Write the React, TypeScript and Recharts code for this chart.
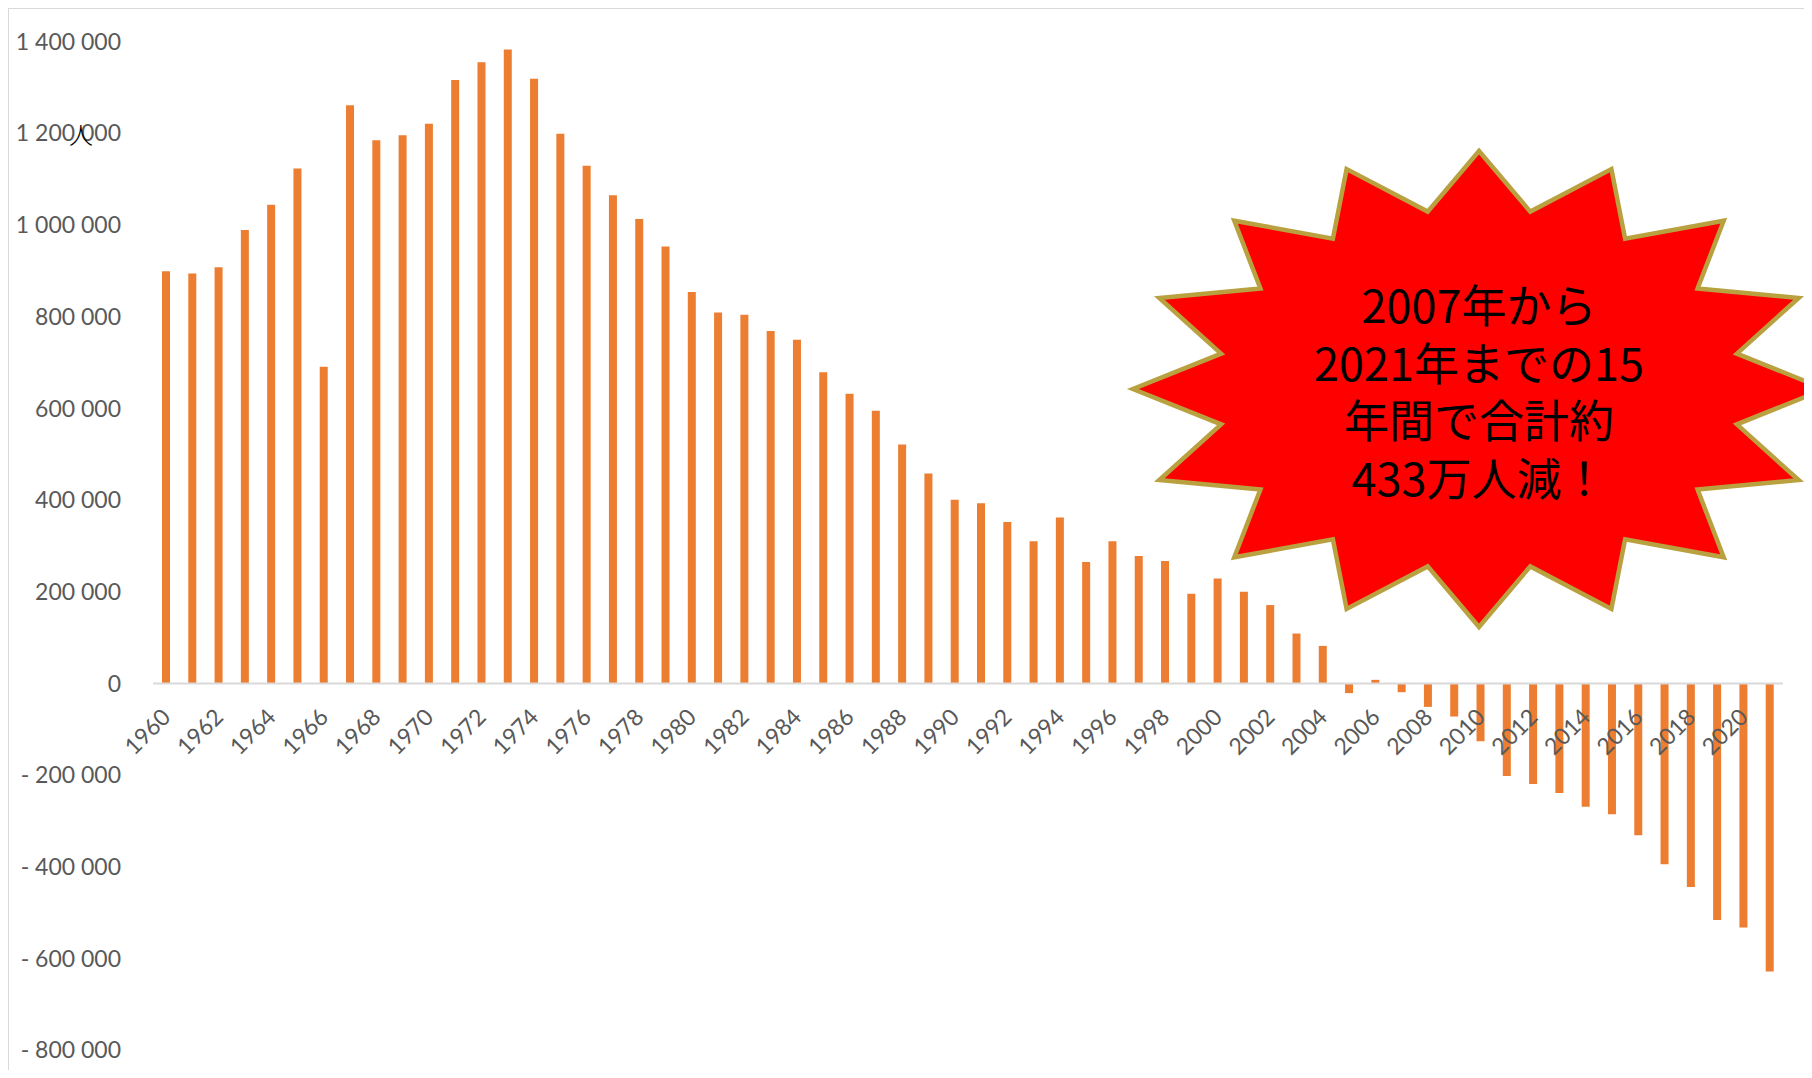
import React from 'react';
import { BarChart, Bar, XAxis, YAxis, ReferenceLine, LabelList } from 'recharts';

// ---- data ----
const years: string[] = [
  '1960', '1961', '1962', '1963', '1964', '1965', '1966', '1967', '1968', '1969',
  '1970', '1971', '1972', '1973', '1974', '1975', '1976', '1977', '1978', '1979',
  '1980', '1981', '1982', '1983', '1984', '1985', '1986', '1987', '1988', '1989',
  '1990', '1991', '1992', '1993', '1994', '1995', '1996', '1997', '1998', '1999',
  '2000', '2001', '2002', '2003', '2004', '2005', '2006', '2007', '2008', '2009',
  '2010', '2011', '2012', '2013', '2014', '2015', '2016', '2017', '2018', '2019',
  '2020', '2021',
];

const naturalChange: number[] = [
  899000, 894000, 908000, 989000, 1044000, 1123000, 691000, 1261000, 1185000, 1196000,
  1221000, 1316000, 1355000, 1383000, 1319000, 1199000, 1129000, 1065000, 1013000, 953000,
  854000, 809000, 804000, 769000, 750000, 679000, 632000, 595000, 521000, 458000,
  401000, 393000, 352000, 310000, 362000, 265000, 310000, 278000, 267000, 196000,
  229000, 200000, 171000, 109000, 82000, -21000, 8000, -19000, -51000, -72000,
  -126000, -202000, -219000, -239000, -269000, -285000, -331000, -394000, -444000, -516000,
  -532000, -628000,
];

const yTicks: number[] = [
  -800000, -600000, -400000, -200000, 0, 200000, 400000, 600000, 800000, 1000000, 1200000, 1400000,
];

const unitLabel = '人';
const calloutLines: string[] = ['2007年から', '2021年までの15', '年間で合計約', '433万人減！'];

const data = years.map((year, i) => ({ year, value: naturalChange[i] }));

if (typeof document !== 'undefined') {
  document.documentElement.style.overflow = 'hidden';
  document.body.style.overflow = 'hidden';
}

// ---- helpers ----
const fmt = (v: number): string => {
  const s = Math.abs(v).toString().replace(/\B(?=(\d{3})+(?!\d))/g, ' ');
  return v < 0 ? '- ' + s : s;
};

const TICK_FONT = 'Lato, "Open Sans", "Liberation Sans", sans-serif';
const CJK_FONT = '"Noto Sans CJK JP", "Noto Sans CJK SC", sans-serif';

const YearLabel = (props: any) => {
  const { index } = props;
  if (index === undefined || index % 2 !== 0) return null;
  const vb = props.viewBox && props.viewBox.width !== undefined ? props.viewBox : props;
  const x = Number(vb.x);
  const y = Number(vb.y);
  const width = Number(vb.width);
  const height = Number(vb.height);
  const v = naturalChange[index];
  let zeroY: number;
  if (v >= 0) zeroY = height >= 0 ? y + height : y;
  else zeroY = height < 0 ? y + height : y;
  const ax = x + width / 2 + 6;
  const ay = zeroY + 35;
  return (
    <text
      x={ax}
      y={ay}
      textAnchor="end"
      transform={`rotate(-45 ${ax} ${ay})`}
      fill="#595959"
      fontSize={23}
      fontFamily={TICK_FONT}
    >
      {years[index]}
    </text>
  );
};

const starPoints = (cx: number, cy: number, rx: number, ry: number, ratio: number, n: number) => {
  const pts: string[] = [];
  for (let k = 0; k < n * 2; k++) {
    const a = (Math.PI * k) / n;
    const f = k % 2 === 0 ? 1 : ratio;
    pts.push(`${(cx + rx * f * Math.sin(a)).toFixed(1)},${(cy - ry * f * Math.cos(a)).toFixed(1)}`);
  }
  return pts.join(' ');
};

export default function App() {
  const starCx = 1470;
  const starCy = 380;
  return (
    <div
      style={{
        position: 'relative',
        width: 1797,
        height: 1061,
        borderTop: '1px solid #D9D9D9',
        borderLeft: '1px solid #D9D9D9',
        borderRight: '1px solid #D9D9D9',
        background: '#fff',
      }}
    >
      <BarChart
        width={1797}
        height={1060}
        data={data}
        margin={{ top: 32.6, right: 23, bottom: 18.7, left: 0 }}
        barCategoryGap={0}
      >
        <XAxis dataKey="year" hide />
        <YAxis
          type="number"
          domain={[-800000, 1400000]}
          ticks={yTicks}
          interval={0}
          width={144}
          axisLine={false}
          tickLine={false}
          tickSize={0}
          tickMargin={32}
          tickFormatter={fmt}
          tick={{ fill: '#595959', fontSize: 23, fontFamily: TICK_FONT }}
          allowDataOverflow
        />
        <ReferenceLine y={0} stroke="#D9D9D9" strokeWidth={2} />
        <Bar dataKey="value" fill="#ED7D31" barSize={8} isAnimationActive={false}>
          <LabelList dataKey="year" content={YearLabel} />
        </Bar>
      </BarChart>
      <svg
        width={1803}
        height={1061}
        style={{ position: 'absolute', left: 0, top: 0, pointerEvents: 'none', overflow: 'hidden' }}
      >
        <text
          x={72}
          y={124}
          textAnchor="middle"
          dominantBaseline="central"
          fontSize={24}
          fontWeight={300}
          fontFamily={CJK_FONT}
          fill="#000"
        >
          {unitLabel}
        </text>
        <polygon
          points={starPoints(starCx, starCy, 346, 238, 0.76, 16)}
          fill="#FF0000"
          stroke="#B9A140"
          strokeWidth={4.5}
          strokeLinejoin="miter"
          strokeMiterlimit={10}
        />
      </svg>
      <div
        style={{
          position: 'absolute',
          left: starCx - 300,
          top: 266,
          width: 600,
          textAlign: 'center',
          fontFamily: CJK_FONT,
          fontSize: 45,
          lineHeight: '57.5px',
          color: '#000',
          pointerEvents: 'none',
          whiteSpace: 'nowrap',
        }}
      >
        {calloutLines.map((line, i) => (
          <div key={i}>{line}</div>
        ))}
      </div>
    </div>
  );
}
